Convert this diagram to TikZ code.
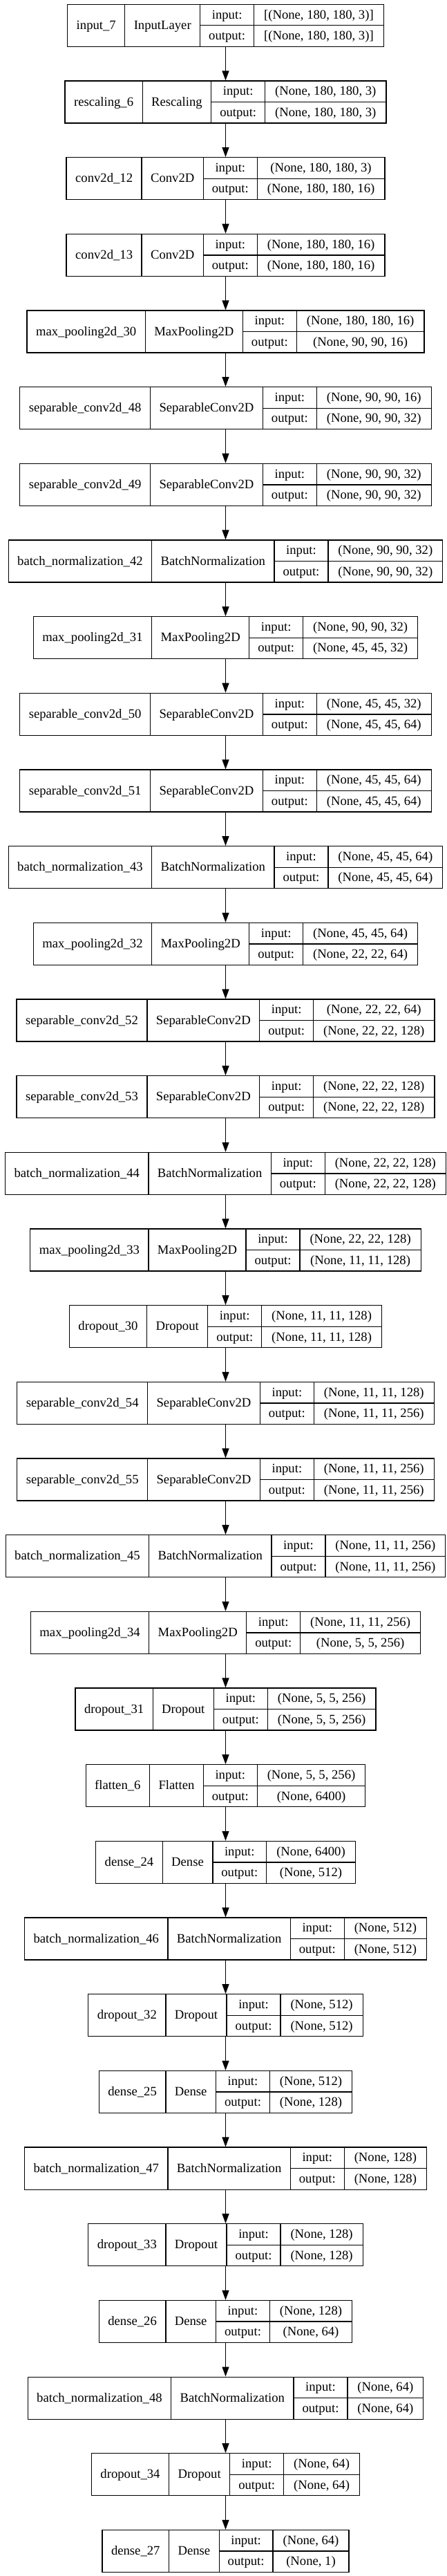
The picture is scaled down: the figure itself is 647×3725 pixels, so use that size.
\documentclass[tikz,border=0pt]{standalone}
\usepackage{fontspec}
\setmainfont{Liberation Serif}
\usetikzlibrary{arrows.meta}
\newcommand\netfont{\fontsize{18.67}{30.5}\selectfont}
\newcommand\rowstrut{\rule[-9.75pt]{0pt}{30.5pt}}

\begin{document}
\begin{tikzpicture}[x=1pt,y=-1pt,font=\netfont,
	cell/.style={draw,line width=1.3pt,inner ysep=0pt,outer sep=0pt,minimum height=61pt},
	onecell/.style={cell,inner xsep=13pt,text height=11pt,text depth=0pt},
	twocell/.style={cell,align=center,inner xsep=#1},
	flow/.style={line width=1.3pt,-{Triangle[length=14pt,width=10pt]}}]
	\useasboundingbox (0,0) rectangle (647,3725);
	\def\cx{326.5}
	\def\pitch{110.67}
	\foreach \lname/\ltype/\lin/\lout [count=\k] in {
		input\_7/InputLayer/{[(None, 180, 180, 3)]}/{[(None, 180, 180, 3)]},
		rescaling\_6/Rescaling/{(None, 180, 180, 3)}/{(None, 180, 180, 3)},
		conv2d\_12/Conv2D/{(None, 180, 180, 3)}/{(None, 180, 180, 16)},
		conv2d\_13/Conv2D/{(None, 180, 180, 16)}/{(None, 180, 180, 16)},
		max\_pooling2d\_30/MaxPooling2D/{(None, 180, 180, 16)}/{(None, 90, 90, 16)},
		separable\_conv2d\_48/SeparableConv2D/{(None, 90, 90, 16)}/{(None, 90, 90, 32)},
		separable\_conv2d\_49/SeparableConv2D/{(None, 90, 90, 32)}/{(None, 90, 90, 32)},
		batch\_normalization\_42/BatchNormalization/{(None, 90, 90, 32)}/{(None, 90, 90, 32)},
		max\_pooling2d\_31/MaxPooling2D/{(None, 90, 90, 32)}/{(None, 45, 45, 32)},
		separable\_conv2d\_50/SeparableConv2D/{(None, 45, 45, 32)}/{(None, 45, 45, 64)},
		separable\_conv2d\_51/SeparableConv2D/{(None, 45, 45, 64)}/{(None, 45, 45, 64)},
		batch\_normalization\_43/BatchNormalization/{(None, 45, 45, 64)}/{(None, 45, 45, 64)},
		max\_pooling2d\_32/MaxPooling2D/{(None, 45, 45, 64)}/{(None, 22, 22, 64)},
		separable\_conv2d\_52/SeparableConv2D/{(None, 22, 22, 64)}/{(None, 22, 22, 128)},
		separable\_conv2d\_53/SeparableConv2D/{(None, 22, 22, 128)}/{(None, 22, 22, 128)},
		batch\_normalization\_44/BatchNormalization/{(None, 22, 22, 128)}/{(None, 22, 22, 128)},
		max\_pooling2d\_33/MaxPooling2D/{(None, 22, 22, 128)}/{(None, 11, 11, 128)},
		dropout\_30/Dropout/{(None, 11, 11, 128)}/{(None, 11, 11, 128)},
		separable\_conv2d\_54/SeparableConv2D/{(None, 11, 11, 128)}/{(None, 11, 11, 256)},
		separable\_conv2d\_55/SeparableConv2D/{(None, 11, 11, 256)}/{(None, 11, 11, 256)},
		batch\_normalization\_45/BatchNormalization/{(None, 11, 11, 256)}/{(None, 11, 11, 256)},
		max\_pooling2d\_34/MaxPooling2D/{(None, 11, 11, 256)}/{(None, 5, 5, 256)},
		dropout\_31/Dropout/{(None, 5, 5, 256)}/{(None, 5, 5, 256)},
		flatten\_6/Flatten/{(None, 5, 5, 256)}/{(None, 6400)},
		dense\_24/Dense/{(None, 6400)}/{(None, 512)},
		batch\_normalization\_46/BatchNormalization/{(None, 512)}/{(None, 512)},
		dropout\_32/Dropout/{(None, 512)}/{(None, 512)},
		dense\_25/Dense/{(None, 512)}/{(None, 128)},
		batch\_normalization\_47/BatchNormalization/{(None, 128)}/{(None, 128)},
		dropout\_33/Dropout/{(None, 128)}/{(None, 128)},
		dense\_26/Dense/{(None, 128)}/{(None, 64)},
		batch\_normalization\_48/BatchNormalization/{(None, 64)}/{(None, 64)},
		dropout\_34/Dropout/{(None, 64)}/{(None, 64)},
		dense\_27/Dense/{(None, 64)}/{(None, 1)}%
	}{
		\pgfmathsetmacro\y{5.7+(\k-1)*\pitch}
		% one record per layer, centred on the flow line
		\matrix (L\k) [ampersand replacement=\&,column sep=-1.3pt,inner sep=0pt,outer sep=0pt,anchor=north]
			at (\cx,\y) {
			\node[onecell] (n\k) {\lname}; \&
			\node[onecell] (t\k) {\ltype}; \&
			\node[twocell=12.5pt] (io\k) {input:\rowstrut\\output:\rowstrut}; \&
			\node[twocell=14.5pt] (s\k) {\lin\rowstrut\\\lout\rowstrut}; \\
		};
		\draw[line width=1.3pt] (io\k.west) -- (s\k.east);
	}
	\foreach \k [count=\m from 2] in {1,...,33}
		\draw[flow] (L\k) -- (L\m);
\end{tikzpicture}
\end{document}
